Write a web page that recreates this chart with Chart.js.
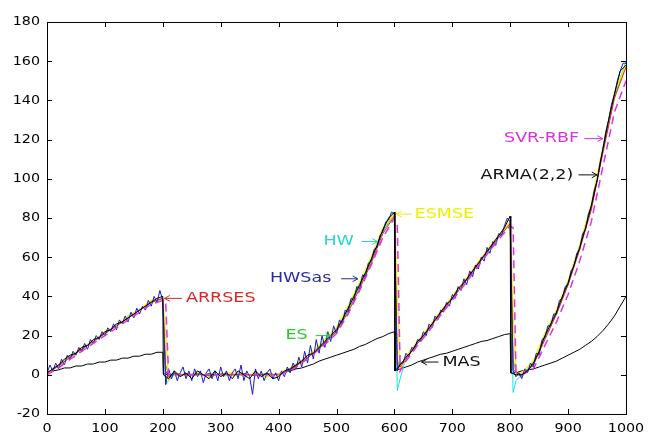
<!DOCTYPE html>
<html>
<head>
<meta charset="utf-8">
<script src="https://cdn.jsdelivr.net/npm/chart.js@4.4.1/dist/chart.umd.min.js"></script>
<style>
  html, body { margin: 0; padding: 0; background: #fff; }
</style>
</head>
<body>
<canvas id="chart" width="653" height="433"></canvas>
<script>
// x positions: regular grids plus the extra points at the drops
function grid(step, extra) {
    const xs = [];
    for (let x = 0; x <= 1000; x += step) xs.push(x);
    return xs.concat(extra).sort((a, b) => a - b);
}
const xFine = grid(5, []);
const xMid = grid(10, [201, 601, 801]);
const xSmooth = grid(20, [205, 210, 605, 610, 805, 810]);

const xTicks = [0, 100, 200, 300, 400, 500, 600, 700, 800, 900, 1000];
const yTicks = [-20, 0, 20, 40, 60, 80, 100, 120, 140, 160, 180];

// HWSas (noisy blue), one value every 5
const hwsas = [
    1, 5, 2, 6, 3, 8, 5, 10, 8, 12, 10, 14, 12, 16, 13, 18, 16, 20, 18, 22, 20, 24, 22, 26, 23, 28, 26, 30, 27, 32, 29, 34, 31, 35, 33, 38, 35, 40, 37, 43, 38,
    -5, 3, -2, 2, -3, 1, 4, -2, 2, -3, 3, -1, 2, -4, 1, 3, -2, 2, -3, 4, -1, 2, -3, 1, 3, -2, 5, -3, 2, -1, -10, 3, -2, 2, -3, 1, 3, -2, 1, -3,
    2, -1, 4, 1, 6, 3, 9, 4, 12, 6, 15, 8, 18, 11, 20, 14, 22, 17, 25, 21, 28, 26, 33, 32, 39, 38, 45, 44, 51, 50, 57, 58, 64, 65, 71, 73, 78, 79, 83, 82,
    2, 6, 6, 11, 9, 14, 13, 18, 17, 22, 20, 26, 24, 30, 28, 33, 32, 37, 35, 41, 39, 45, 43, 49, 46, 53, 50, 56, 54, 60, 58, 65, 62, 68, 66, 72, 71, 76, 80, 78,
    2, -1, 1, -2, 3, 1, 6, 4, 11, 10, 18, 19, 25, 25, 31, 31, 38, 39, 45, 46, 53, 55, 62, 64, 72, 74, 82, 86, 94, 99, 108, 115, 124, 130, 138, 143, 150, 155, 159, 159
];

// ARMA(2,2) and MAS on xMid
const arma = [
    1, 3, 5, 8, 10, 11, 14, 15, 18, 19, 22, 23, 26, 27, 29, 31, 33, 35, 37, 39, 40,
    0, -2, 2, -1, 1, -2, 2, 0, -2, 2, -1, 1, -2, 2, 0, -2, 2, -1, 1, -2, -1,
    2, 3, 5, 7, 10, 11, 14, 17, 20, 23, 28, 34, 40, 46, 52, 59, 66, 74, 80, 83,
    2, 5, 9, 12, 17, 20, 24, 28, 32, 36, 39, 44, 47, 51, 55, 59, 63, 67, 71, 75, 81,
    1, 0, 0, 2, 6, 12, 20, 26, 32, 40, 47, 56, 65, 75, 86, 99, 115, 130, 143, 155, 158
];
const mas = [
    0, 2, 2.5, 3.5, 3.5, 4.5, 4.5, 5.5, 5.5, 6.5, 6.5, 7.5, 7.5, 8.5, 8.5, 9.5, 9.5, 10.5, 10.5, 11.5, 11.5,
    0.5, 0, 0.5, 0, 0.5, 0, 0.5, 0, 0.5, 0, 0.5, 0, 0.5, 0, 0.5, 0, 0.5, 0, 0.5, 0, 0.5,
    1.5, 2, 3, 3.5, 4.5, 5.5, 7, 8, 9, 10, 11, 12, 13, 14.5, 15.5, 17, 18.5, 19.5, 21, 22,
    2, 3, 4, 5, 6.5, 7.5, 8.5, 9.5, 10.5, 11, 12, 13, 14, 15, 16, 17, 17.5, 18.5, 19.5, 20.5, 21,
    1, 1, 2, 2.5, 3, 4, 5, 6, 7, 8.5, 10, 11.5, 13, 15, 17, 19.5, 22.5, 26, 30, 35, 40
];

// smoother forecasts on xSmooth
const arrses = [
    1, 4.5, 9, 13, 17, 21, 25, 29, 33, 37, 39,
    2, -1, 0.5, 0, 0.5, -0.5, 0.5, 0, 0.5, -0.5, 0.5, 0,
    2.5, 6.5, 11, 16, 22, 32, 44, 57, 72, 81,
    5, 4, 8, 16, 23.5, 31.5, 39, 46.5, 54.5, 62.5, 70, 77,
    3, 1, 0, 5, 18, 31, 46, 64, 84, 113, 141, 157
];
const esmse = [
    0, 5, 9, 14, 17, 22, 25, 30, 33, 38, 38,
    20, -2, 1, -0.5, 1, -1, 0.5, 1, -0.5, 0.5, -1, 0.5,
    3.5, 7.5, 12, 18, 24, 35, 47, 60, 75, 82,
    40, 2, 9.5, 17, 24.5, 32.5, 40, 47.5, 55.5, 63.5, 71, 78,
    30, 0, 1, 7, 21, 33, 48, 66, 87, 116, 144, 158
];
const hw = [
    1, 5, 9.5, 13.5, 17.5, 21.5, 25.5, 29.5, 33.5, 37.5, 39,
    -5, -3, 0, 0, 0.5, 0, 0, 0.5, 0, 0, 0.5, 0,
    3, 7, 11.5, 17, 23, 34, 46, 59, 74, 83,
    -8, -2, 9, 16.5, 24, 32, 39.5, 47, 55, 63, 70.5, 78,
    -9, -3, 0, 6, 20, 32, 47, 65, 86, 115, 143, 160
];
const es = [
    0.5, 4.5, 9, 13, 17, 21, 25, 29, 33, 37, 38.5,
    5, 0, 0, 0, 0, 0, 0, 0, 0, 0, 0, 0,
    2.5, 6.5, 11, 16.5, 22.5, 33, 45, 58, 73, 82,
    8, 3, 8.5, 16, 23.5, 31.5, 39, 46.5, 54.5, 62.5, 70, 77.5,
    8, 1, -1, 5, 19, 31, 46, 64, 85, 114, 142, 158
];
const svr = [
    0, 3.5, 8, 12, 16, 20, 24, 28, 32, 36, 38,
    37, 0, 0, 0, 0, 0, 0, 0, 0, 0, 0, 0,
    2, 6, 10.5, 15.5, 21, 31, 43, 56, 70, 80,
    76, 2, 7, 15, 22.5, 30.5, 38, 45.5, 53.5, 61.5, 69, 76,
    75, 1, 0, 3, 15, 27, 41, 58, 78, 106, 134, 150
];

// text labels with arrows (data coordinates)
const notes = [
    { text: 'ARRSES', color: '#d42a2a', x: 240, y: 39, align: 'left', from: [233, 39], to: [203, 39] },
    { text: 'ESMSE', color: '#eded00', x: 635, y: 82, align: 'left', from: [630, 82], to: [603, 82] },
    { text: 'HW', color: '#22d6d6', x: 530, y: 68, align: 'right', from: [543, 68], to: [571, 68] },
    { text: 'HWSas', color: '#2a2aa6', x: 491, y: 49, align: 'right', from: [508, 49], to: [537, 49] },
    { text: 'ES', color: '#33c633', x: 450, y: 20, align: 'right', from: [464, 20], to: [490, 20] },
    { text: 'MAS', color: '#111111', x: 683, y: 6.5, align: 'left', from: [676, 6.5], to: [647, 6.5] },
    { text: 'ARMA(2,2)', color: '#111111', x: 909, y: 102, align: 'right', from: [918, 102], to: [950, 102] },
    { text: 'SVR-RBF', color: '#d832d8', x: 919, y: 120.5, align: 'right', from: [928, 120.5], to: [960, 120.5] }
];

function pts(xs, ys) {
    return xs.map((x, i) => ({ x: x, y: ys[i] }));
}

function line(label, xs, ys, color, extra) {
    return Object.assign({
        label: label,
        data: pts(xs, ys),
        borderColor: color,
        borderWidth: 1,
        pointRadius: 0,
        tension: 0,
        fill: false
    }, extra || {});
}

// stretched text, like the wide glyphs of the original
function wideText(ctx, text, x, y, align, sx) {
    const w = ctx.measureText(text).width * sx;
    let left = x;
    if (align === 'right') left = x - w;
    if (align === 'center') left = x - w / 2;
    ctx.save();
    ctx.translate(left, y);
    ctx.scale(sx, 1);
    ctx.textAlign = 'left';
    ctx.fillText(text, 0, 0);
    ctx.restore();
}

const framePlugin = {
    id: 'frame',
    afterDraw(chart) {
        const ctx = chart.ctx;
        const a = chart.chartArea;
        const sx = chart.scales.x;
        const sy = chart.scales.y;

        ctx.save();
        ctx.strokeStyle = '#000';
        ctx.lineWidth = 1;
        ctx.strokeRect(a.left + 0.5, a.top + 0.5, a.right - a.left, a.bottom - a.top);

        // ticks pointing inwards, on all four sides
        ctx.beginPath();
        xTicks.forEach(v => {
            const px = Math.round(sx.getPixelForValue(v)) + 0.5;
            ctx.moveTo(px, a.bottom);
            ctx.lineTo(px, a.bottom - 5);
            ctx.moveTo(px, a.top);
            ctx.lineTo(px, a.top + 5);
        });
        yTicks.forEach(v => {
            const py = Math.round(sy.getPixelForValue(v)) + 0.5;
            ctx.moveTo(a.left, py);
            ctx.lineTo(a.left + 5, py);
            ctx.moveTo(a.right, py);
            ctx.lineTo(a.right - 5, py);
        });
        ctx.stroke();

        ctx.fillStyle = '#000';
        ctx.font = '13px "DejaVu Sans"';
        ctx.textBaseline = 'middle';
        yTicks.forEach(v => {
            wideText(ctx, String(v), a.left - 7, sy.getPixelForValue(v), 'right', 1.1);
        });
        ctx.textBaseline = 'alphabetic';
        xTicks.forEach(v => {
            wideText(ctx, String(v), sx.getPixelForValue(v), 432, 'center', 1.1);
        });

        // labels and arrows
        ctx.font = '14px "DejaVu Sans"';
        ctx.textBaseline = 'middle';
        notes.forEach(n => {
            ctx.fillStyle = n.color;
            ctx.strokeStyle = n.color;
            wideText(ctx, n.text, sx.getPixelForValue(n.x), sy.getPixelForValue(n.y), n.align, 1.25);
            const x1 = sx.getPixelForValue(n.from[0]), y1 = sy.getPixelForValue(n.from[1]);
            const x2 = sx.getPixelForValue(n.to[0]), y2 = sy.getPixelForValue(n.to[1]);
            const ang = Math.atan2(y2 - y1, x2 - x1);
            ctx.beginPath();
            ctx.moveTo(x1, y1);
            ctx.lineTo(x2, y2);
            ctx.moveTo(x2, y2);
            ctx.lineTo(x2 - 6 * Math.cos(ang - 0.5), y2 - 6 * Math.sin(ang - 0.5));
            ctx.moveTo(x2, y2);
            ctx.lineTo(x2 - 6 * Math.cos(ang + 0.5), y2 - 6 * Math.sin(ang + 0.5));
            ctx.stroke();
        });
        ctx.restore();
    }
};

new Chart(document.getElementById('chart'), {
    type: 'line',
    data: {
        datasets: [
            line('ARMA(2,2)', xMid, arma, '#000000'),
            line('SVR-RBF', xSmooth, svr, '#e030e0', { borderWidth: 1.5, borderDash: [8, 5] }),
            line('HWSas', xFine, hwsas, '#1a1ad0'),
            line('ARRSES', xSmooth, arrses, '#e02a2a'),
            line('ESMSE', xSmooth, esmse, '#f2f200', { borderWidth: 1.5 }),
            line('HW', xSmooth, hw, '#20dede'),
            line('ES', xSmooth, es, '#30d030'),
            line('MAS', xMid, mas, '#000000')
        ]
    },
    options: {
        responsive: false,
        animation: false,
        events: [],
        layout: { padding: { left: 47, right: 27, top: 22, bottom: 19 } },
        plugins: {
            legend: { display: false },
            tooltip: { enabled: false }
        },
        scales: {
            x: { type: 'linear', min: 0, max: 1000, display: false },
            y: { type: 'linear', min: -20, max: 180, display: false }
        }
    },
    plugins: [framePlugin]
});
</script>
</body>
</html>
